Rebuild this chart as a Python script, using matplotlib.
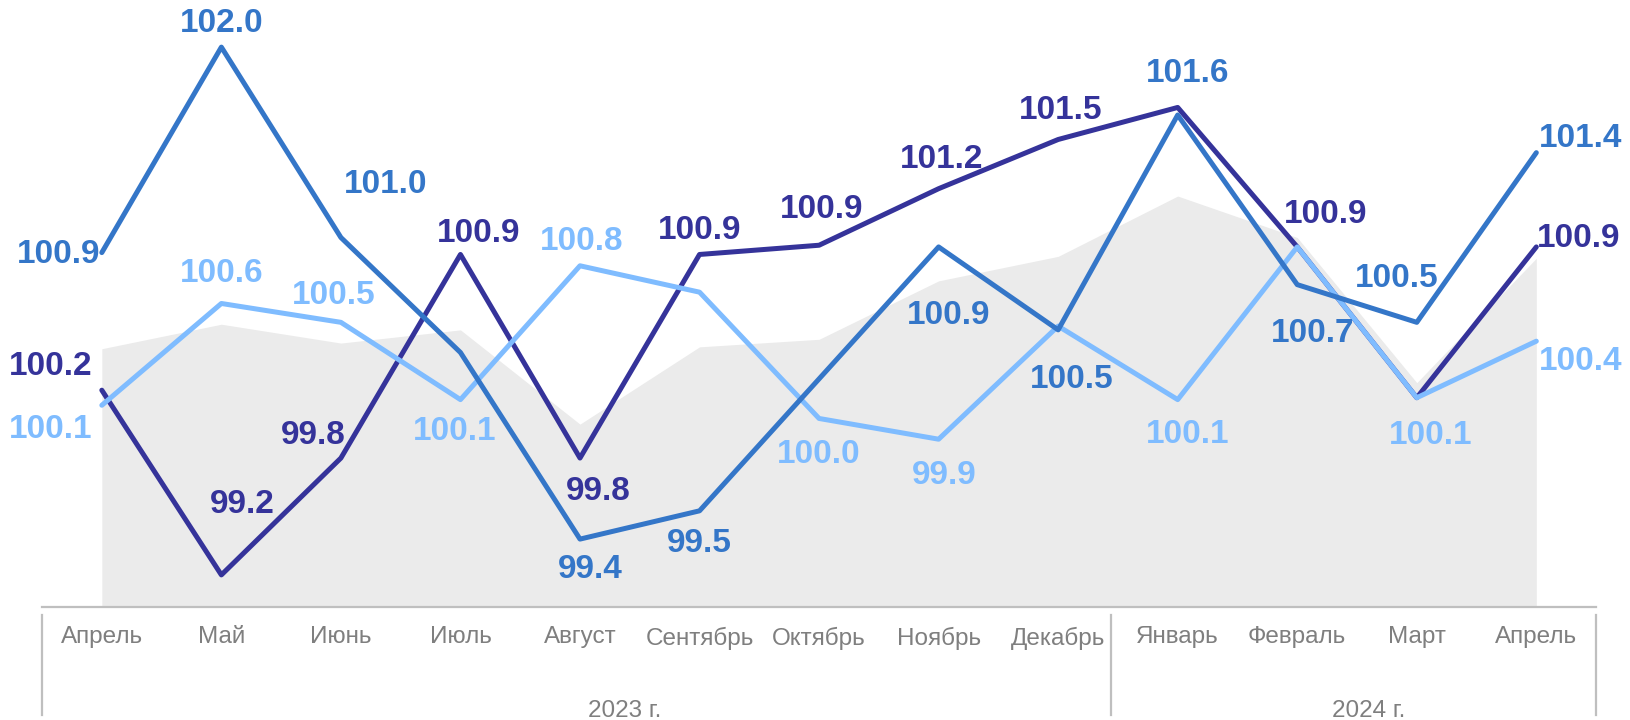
import numpy as np
import matplotlib
matplotlib.use("Agg")
import matplotlib.pyplot as plt
import matplotlib.transforms as mtransforms

plt.rcParams['font.family'] = ['Liberation Sans', 'DejaVu Sans']

# data
months = ["Апрель", "Май", "Июнь", "Июль", "Август", "Сентябрь", "Октябрь",
          "Ноябрь", "Декабрь", "Январь", "Февраль", "Март", "Апрель"]
years = ["2023 г.", "2024 г."]
dark_vals = [100.18, 99.2, 99.82, 100.9, 99.82, 100.9, 100.949, 101.249, 101.51,
             101.68, 100.94, 100.14, 100.94]
mid_vals = [100.91, 102.0, 100.99, 100.38, 99.39, 99.54, 100.24, 100.94, 100.5,
            101.64, 100.74, 100.54, 101.44]
light_vals = [100.1, 100.64, 100.54, 100.13, 100.84, 100.7, 100.03, 99.92, 100.52,
              100.13, 100.94, 100.14, 100.44]
gray_vals = [100.4, 100.53, 100.43, 100.5, 100.0, 100.41, 100.45, 100.76, 100.89,
             101.21, 100.99, 100.22, 100.88]

# label offsets in pixels (dx, dy down), None = no label
dark_off = [(-49, -23), (20, -68), (-27, -22), (17, -20), (18, 32), (0, -23), (2, -34),
            (3, -28), (2, -28), None, (27, -31), None, (41, -8)]
mid_off = [(-42, 2), (0, -23), (43, -51), None, (10, 29), (0, 31), None,
           (10, 66), (13, 48), (10, -40), (15, 47), (-19, -42), (43, -14)]
light_off = [(-49, 23), (0, -29), (-7, -26), (-6, 31), (2, -23), None, (0, 35),
             (5, 35), None, (10, 34), None, (13, 36), (43, 20)]

c_dark = '#35339A'
c_mid = '#3476C8'
c_light = '#7FBCFF'
c_gray = '#EBEBEB'
c_axis = '#BFBFBF'
c_text = '#7F7F7F'

fig = plt.figure(figsize=(16.3, 7.2), dpi=100)
ax = fig.add_axes([0.0258, 0.157, 0.9534, 0.843])
x = np.arange(len(months))
ylo, yhi = 99.03, 102.25
ax.set_xlim(-0.5, len(months) - 0.5)
ax.set_ylim(ylo, yhi)

ax.fill_between(x, gray_vals, ylo, color=c_gray, lw=0, zorder=1)
ax.plot(x, dark_vals, color=c_dark, lw=3.6, zorder=3, solid_capstyle='round')
ax.plot(x, light_vals, color=c_light, lw=3.6, zorder=4, solid_capstyle='round')
ax.plot(x, mid_vals, color=c_mid, lw=3.6, zorder=5, solid_capstyle='round')

s = 1.04
for vals, offs, col in [(dark_vals, dark_off, c_dark), (mid_vals, mid_off, c_mid),
                        (light_vals, light_off, c_light)]:
    for i, (v, o) in enumerate(zip(vals, offs)):
        if o is None:
            continue
        ax.annotate(f"{v:.1f}", (i, v), xytext=(o[0] * s, -o[1] * s),
                    textcoords='offset pixels', ha='center', va='center',
                    color=col, fontsize=24, fontweight='bold', zorder=10)

for sp in ['top', 'right', 'left']:
    ax.spines[sp].set_visible(False)
ax.spines['bottom'].set_color(c_axis)
ax.spines['bottom'].set_linewidth(1.6)
ax.set_yticks([])
ax.set_xticks(x)
ax.set_xticklabels(months, fontsize=17.5, color=c_text)
ax.tick_params(axis='x', length=0, pad=14)

# year grouping
tr = mtransforms.blended_transform_factory(ax.transData, ax.transAxes)
for xv in [-0.5, 8.44, 12.5]:
    ax.plot([xv, xv], [-0.013, -0.178], transform=tr, color=c_axis, lw=1.6,
            clip_on=False)
ax.text(4.37, -0.172, years[0], transform=tr, ha='center', va='center',
        fontsize=17.5, color=c_text)
ax.text(10.6, -0.172, years[1], transform=tr, ha='center', va='center',
        fontsize=17.5, color=c_text)

fig.savefig('out.png', dpi=100)
